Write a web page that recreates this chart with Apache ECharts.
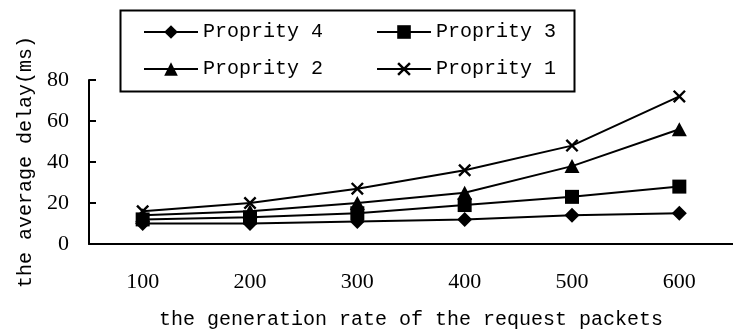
<!DOCTYPE html>
<html>
<head>
<meta charset="utf-8">
<script src="https://cdn.jsdelivr.net/npm/echarts@6/dist/echarts.min.js"></script>
<style>
html,body{margin:0;padding:0;background:#fff;}
#chart{width:733px;height:333px;}
</style>
</head>
<body>
<div id="chart"></div>
<script>
var categories = ['100', '200', '300', '400', '500', '600'];
var seriesNames = ['Proprity 4', 'Proprity 3', 'Proprity 2', 'Proprity 1'];
var proprity4 = [10, 10, 11, 12, 14, 15];
var proprity3 = [12, 13, 15, 19, 23, 28];
var proprity2 = [14, 16, 20, 25, 38, 56];
var proprity1 = [16, 20, 27, 36, 48, 72];
var yTicks = { min: 0, max: 80, interval: 20 };
var xTitle = 'the generation rate of the request packets';
var yTitle = 'the average delay(ms)';

var MONO = '"Liberation Mono", "DejaVu Sans Mono", monospace';
var SERIF = '"Liberation Serif", "DejaVu Serif", serif';
var crossPath = 'path://M0,1.3L1.3,0L10,8.7L8.7,10Z M8.7,0L10,1.3L1.3,10L0,8.7Z';

var symbols = ['diamond', 'rect', 'triangle', crossPath];
var sizes = [[15, 15], [14, 14], [15, 14], [13, 13]];
var dataSets = [proprity4, proprity3, proprity2, proprity1];

var series = seriesNames.map(function (name, i) {
  return {
    name: name,
    type: 'line',
    data: dataSets[i],
    symbol: symbols[i],
    symbolSize: sizes[i],
    showAllSymbol: true,
    lineStyle: { color: '#000', width: 2 },
    itemStyle: { color: '#000' },
    animation: false,
    z: 3
  };
});

var legendCommon = {
  orient: 'horizontal',
  itemWidth: 54,
  itemHeight: 17,
  itemGap: 53,
  padding: 0,
  lineStyle: { width: 2, color: '#000' },
  itemStyle: { color: '#000' },
  textStyle: { fontFamily: MONO, fontSize: 20, color: '#000' },
  inactiveColor: '#000'
};

var chart = echarts.init(document.getElementById('chart'), null, { renderer: 'canvas' });
chart.setOption({
  backgroundColor: '#fff',
  animation: false,
  graphic: [{
    type: 'rect',
    left: 118, top: 8,
    shape: { width: 454, height: 81 },
    style: { fill: 'none', stroke: '#000', lineWidth: 2 },
    z: 10
  }],
  legend: [
    Object.assign({}, legendCommon, { left: 143, top: 22, data: [seriesNames[0], seriesNames[1]] }),
    Object.assign({}, legendCommon, { left: 143, top: 59, data: [seriesNames[2], seriesNames[3]] })
  ],
  grid: { left: 89, top: 80, width: 654, height: 164, containLabel: false },
  xAxis: {
    type: 'category',
    data: categories,
    boundaryGap: true,
    name: xTitle,
    nameLocation: 'middle',
    nameGap: 66,
    nameTextStyle: { fontFamily: MONO, fontSize: 20, color: '#000' },
    axisLine: { lineStyle: { color: '#000', width: 2 } },
    axisTick: { inside: true, length: 6, lineStyle: { color: '#000', width: 2 } },
    axisLabel: { fontFamily: SERIF, fontSize: 22, color: '#000', margin: 27 },
    splitLine: { show: false }
  },
  yAxis: {
    type: 'value',
    min: yTicks.min,
    max: yTicks.max,
    interval: yTicks.interval,
    name: yTitle,
    nameLocation: 'middle',
    nameGap: 50,
    nameRotate: 90,
    nameTextStyle: { fontFamily: MONO, fontSize: 20, color: '#000' },
    axisLine: { show: true, lineStyle: { color: '#000', width: 2 } },
    axisTick: { show: true, inside: true, length: 7, lineStyle: { color: '#000', width: 2 } },
    axisLabel: { fontFamily: SERIF, fontSize: 22, color: '#000', margin: 20 },
    splitLine: { show: false }
  },
  series: series
});
</script>
</body>
</html>
